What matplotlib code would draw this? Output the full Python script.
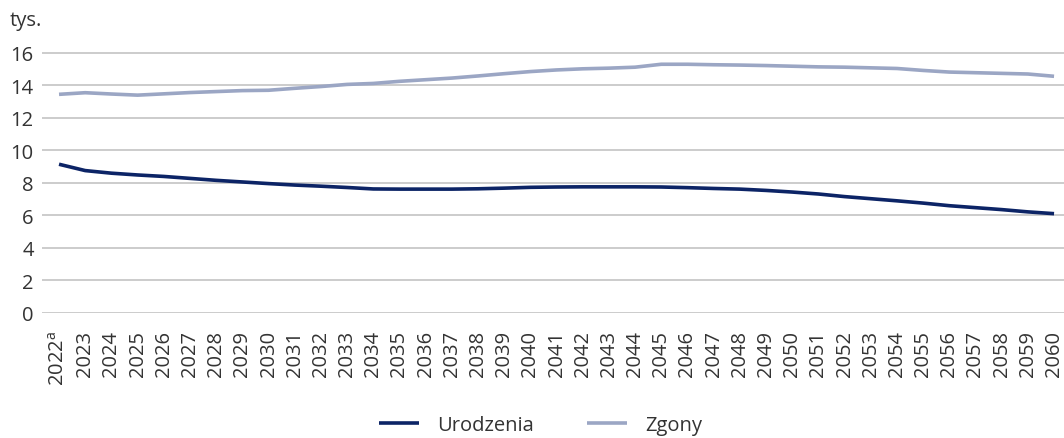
import numpy as np
import matplotlib
matplotlib.use("Agg")
import matplotlib.pyplot as plt

plt.rcParams['font.family'] = ['Open Sans', 'DejaVu Sans']
plt.rcParams['mathtext.fontset'] = 'custom'
plt.rcParams['mathtext.rm'] = 'Open Sans'

# lata prognozy
years = list(range(2022, 2061))
year_labels = ['2022$^{\\mathrm{a}}$'] + [str(y) for y in years[1:]]

# urodzenia i zgony (tys.)
urodzenia = [9.15, 8.76, 8.60, 8.49, 8.40, 8.28, 8.16, 8.06, 7.96, 7.87,
             7.80, 7.72, 7.63, 7.62, 7.62, 7.62, 7.64, 7.68, 7.73, 7.75,
             7.76, 7.76, 7.76, 7.75, 7.71, 7.66, 7.62, 7.54, 7.44, 7.32,
             7.16, 7.03, 6.90, 6.76, 6.60, 6.48, 6.36, 6.22, 6.11]
zgony = [13.45, 13.55, 13.47, 13.40, 13.48, 13.56, 13.62, 13.68, 13.70, 13.82,
         13.93, 14.06, 14.12, 14.25, 14.35, 14.45, 14.58, 14.72, 14.85, 14.95,
         15.02, 15.06, 15.12, 15.30, 15.30, 15.27, 15.25, 15.22, 15.18, 15.14,
         15.12, 15.08, 15.04, 14.92, 14.82, 14.78, 14.74, 14.70, 14.56]

fig = plt.figure(figsize=(10.64, 4.39), dpi=100)
ax = fig.add_axes([42 / 1064, 125 / 439, 1022 / 1064, 265 / 439])

ax.plot(years, urodzenia, color='#0c2466', lw=2.6, label='Urodzenia', solid_capstyle='butt')
ax.plot(years, zgony, color='#9ba6c4', lw=2.6, label='Zgony', solid_capstyle='butt')

ax.set_xlim(2021.35, 2060.38)
ax.set_ylim(0, 16.3)
ax.set_yticks(range(0, 17, 2))
ax.set_xticks(years)
ax.set_xticklabels(year_labels, rotation=90)
ax.tick_params(axis='both', length=0, labelsize=14.5, colors='#333333')
ax.tick_params(axis='y', pad=6)
ax.tick_params(axis='x', pad=12)
ax.grid(axis='y', color='#c8c8c8', lw=1.3)
ax.set_axisbelow(True)
for s in ax.spines.values():
    s.set_visible(False)

fig.text(0.009, 0.952, 'tys.', fontsize=14.5, color='#333333', va='center')

fig.legend(loc='lower center', bbox_to_anchor=(0.508, -0.035), ncol=2, frameon=False,
           fontsize=14.5, handlelength=2.0, columnspacing=2.6, handletextpad=0.9,
           labelcolor='#333333')

fig.savefig('out.png', dpi=100, facecolor='white')
